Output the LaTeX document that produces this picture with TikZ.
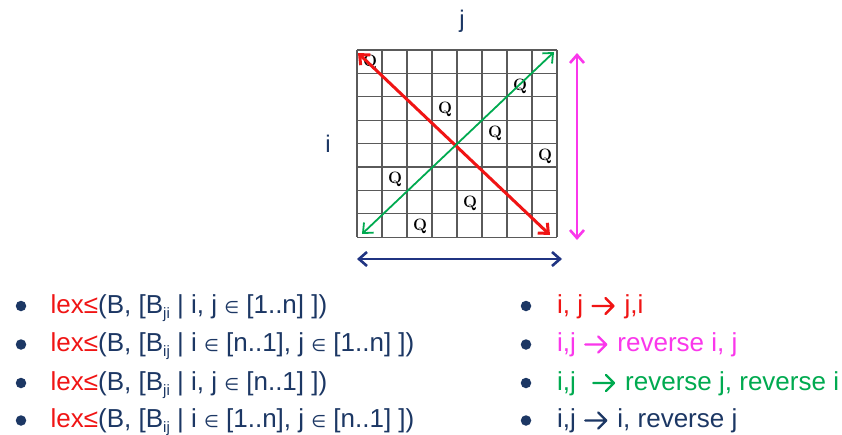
\documentclass[tikz,border=0pt]{standalone}
\usepackage{fontspec}
\setmainfont{Liberation Sans}
\newfontfamily\dejavu{DejaVu Sans}
\newfontfamily\qfont{Latin Modern Roman}
\usetikzlibrary{arrows.meta}
\definecolor{navy}{RGB}{28,55,100}
\definecolor{navyarrow}{RGB}{32,52,130}
\definecolor{lexred}{RGB}{240,20,20}
\definecolor{mag}{RGB}{250,55,235}
\definecolor{grn}{RGB}{0,170,80}
\definecolor{gridc}{RGB}{90,90,90}
\newcommand{\elem}{{\dejavu\fontsize{17}{17}\selectfont ∈}}
\newcommand{\sbs}[1]{\raisebox{-0.2em}{\fontsize{15}{15}\selectfont #1}}
\newcommand{\arr}{\hspace{1pt}\begin{pgfpicture}%
\pgfsetlinewidth{2.4pt}\pgfsetroundcap\pgfsetroundjoin
\pgfpathmoveto{\pgfpoint{1.2pt}{7pt}}\pgfpathlineto{\pgfpoint{22pt}{7pt}}%
\pgfpathmoveto{\pgfpoint{14pt}{15pt}}\pgfpathlineto{\pgfpoint{22pt}{7pt}}\pgfpathlineto{\pgfpoint{14pt}{-1pt}}%
\pgfusepath{stroke}%
\pgfpathrectangle{\pgfpoint{0pt}{0pt}}{\pgfpoint{24pt}{14pt}}\pgfusepath{use as bounding box}%
\pgfsetbaseline{0pt}%
\end{pgfpicture}\hspace{2pt}}
\tikzset{
  txt/.style={anchor=base west, inner sep=0, font=\fontsize{26}{30}\selectfont, text=navy},
  bul/.style={circle, fill=navy, inner sep=0, minimum size=10.5},
  queen/.style={inner sep=0, font=\qfont\bfseries\fontsize{16.5}{16.5}\selectfont},
  dbl/.style={{Straight Barb[length=8,width=14]}-{Straight Barb[length=8,width=14]}},
  axis/.style={anchor=base, font=\fontsize{24}{28}\selectfont, text=navy, inner sep=0}
}
\begin{document}
\begin{tikzpicture}[x=1pt,y=-1pt]
\useasboundingbox (0,0) rectangle (842,434);
\fill[white] (0,0) rectangle (842,434);
% grid
\foreach \k in {0,...,8} {
  \draw[gridc, line width=1.2] (357+25*\k,50) -- (357+25*\k,237.2);
  \draw[gridc, line width=1.2] (357,50+23.4*\k) -- (557,50+23.4*\k);
}
% queens
\foreach \r/\c [count=\n] in {1/1,2/7,3/4,4/6,5/8,6/2,7/5,8/3} {
  \node[queen] (q\n) at (357+25*\c-12.5+0.5,50+23.4*\r-11.7+1) {Q};
}
% axis labels
\node[axis] (lj) at (462,27) {j};
\node[axis] (li) at (328,152) {i};
% arrows
\coordinate (rA) at (358,53);
\coordinate (rB) at (550,235);
\coordinate (gA) at (362,234);
\coordinate (gB) at (554,52);
\coordinate (mA) at (577,53);
\coordinate (mB) at (577,240);
\coordinate (nA) at (357,259);
\coordinate (nB) at (562,259);
\draw[dbl, lexred, line width=3] (rA) -- (rB);
\draw[dbl, grn, line width=1.8] (gA) -- (gB);
\draw[dbl, mag, line width=2.6] (mA) -- (mB);
\draw[dbl, navyarrow, line width=2.6] (nA) -- (nB);
% bullets
\foreach \y [count=\n] in {306,344.5,383,420.5} {
  \node[bul] (lb\n) at (21,\y) {};
  \node[bul] (rb\n) at (526,\y) {};
}
% left column
\node[txt] (l1) at (50.5,313) {\textcolor{lexred}{lex≤}(B, [B\sbs{ji} | i, j \elem{} [1..n] ])};
\node[txt] (l2) at (50.5,351.5) {\textcolor{lexred}{lex≤}(B, [B\sbs{ij} | i \elem{} [n..1], j \elem{} [1..n] ])};
\node[txt] (l3) at (50.5,390) {\textcolor{lexred}{lex≤}(B, [B\sbs{ji} | i, j \elem{} [n..1] ])};
\node[txt] (l4) at (50.5,427.5) {\textcolor{lexred}{lex≤}(B, [B\sbs{ij} | i \elem{} [1..n], j \elem{} [n..1] ])};
% right column
\node[txt, text=lexred] (r1) at (556,313) {i, j \arr{} j,i};
\node[txt, text=mag] (r2) at (556,351.5) {i,j \arr{} reverse i, j};
\node[txt, text=grn] (r3) at (556,390) {i,j\hspace{0.3em} \arr{} reverse j, reverse i};
\node[txt, text=navy] (r4) at (556,427.5) {i,j \arr{} i, reverse j};
\end{tikzpicture}
\end{document}
